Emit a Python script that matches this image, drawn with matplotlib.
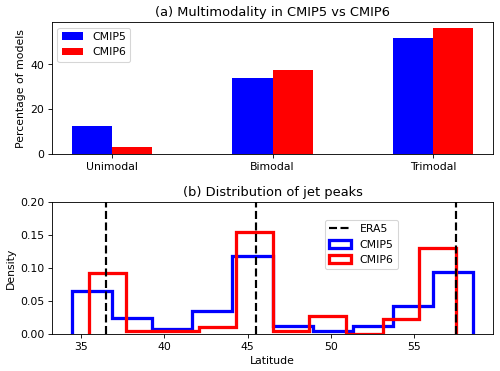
import matplotlib
matplotlib.use("Agg")
import matplotlib.pyplot as plt
import numpy as np

# Panel (a)
categories = ["Unimodal", "Bimodal", "Trimodal"]
cmip5_pct = [12.5, 33.8, 51.9]
cmip6_pct = [3.1, 37.4, 56.1]

# Panel (b) histogram densities
cmip5_edges = [34.46, 36.87, 39.27, 41.68, 44.09, 46.50, 48.90, 51.31, 53.72, 56.13, 58.53]
cmip5_density = [0.0657, 0.0242, 0.0081, 0.0359, 0.1187, 0.0121, 0.0045, 0.0121, 0.0434, 0.0939]
cmip6_edges = [35.46, 37.67, 39.87, 42.08, 44.29, 46.50, 48.70, 50.91, 53.12, 55.32, 57.53]
cmip6_density = [0.0934, 0.0056, 0.0056, 0.0116, 0.1545, 0.0056, 0.0278, 0.0, 0.0227, 0.1313]
era5_peaks = [36.5, 45.5, 57.5]

fig = plt.figure(figsize=(6.4, 4.75), dpi=78.125)
ax1 = fig.add_axes([0.104, 0.585, 0.882, 0.355])
ax2 = fig.add_axes([0.104, 0.099, 0.882, 0.356])

x = np.arange(len(categories))
w = 0.25
ax1.bar(x - w / 2, cmip5_pct, width=w, color="blue", label="CMIP5")
ax1.bar(x + w / 2, cmip6_pct, width=w, color="red", label="CMIP6")
ax1.set_xticks(x)
ax1.set_xticklabels(categories)
ax1.set_yticks([0, 20, 40])
ax1.set_ylabel("Percentage of models")
ax1.set_title("(a) Multimodality in CMIP5 vs CMIP6")
ax1.legend(loc="upper left")

for i, p in enumerate(era5_peaks):
    ax2.axvline(p, color="k", ls="--", lw=2, zorder=3, label="ERA5" if i == 0 else None)
c5 = [(cmip5_edges[i] + cmip5_edges[i + 1]) / 2 for i in range(len(cmip5_density))]
c6 = [(cmip6_edges[i] + cmip6_edges[i + 1]) / 2 for i in range(len(cmip6_density))]
ax2.hist(c5, bins=cmip5_edges, weights=cmip5_density, histtype="step", color="blue", lw=3, label="CMIP5")
ax2.hist(c6, bins=cmip6_edges, weights=cmip6_density, histtype="step", color="red", lw=3, label="CMIP6")
ax2.set_ylim(0, 0.2)
ax2.set_yticks([0, 0.05, 0.10, 0.15, 0.20])
ax2.set_yticklabels(["0.00", "0.05", "0.10", "0.15", "0.20"])
ax2.set_xlabel("Latitude")
ax2.set_ylabel("Density")
ax2.set_title("(b) Distribution of jet peaks")
ax2.legend(loc="upper left", bbox_to_anchor=(0.619, 0.866), borderaxespad=0)

fig.savefig("out.png", dpi=78.125)
